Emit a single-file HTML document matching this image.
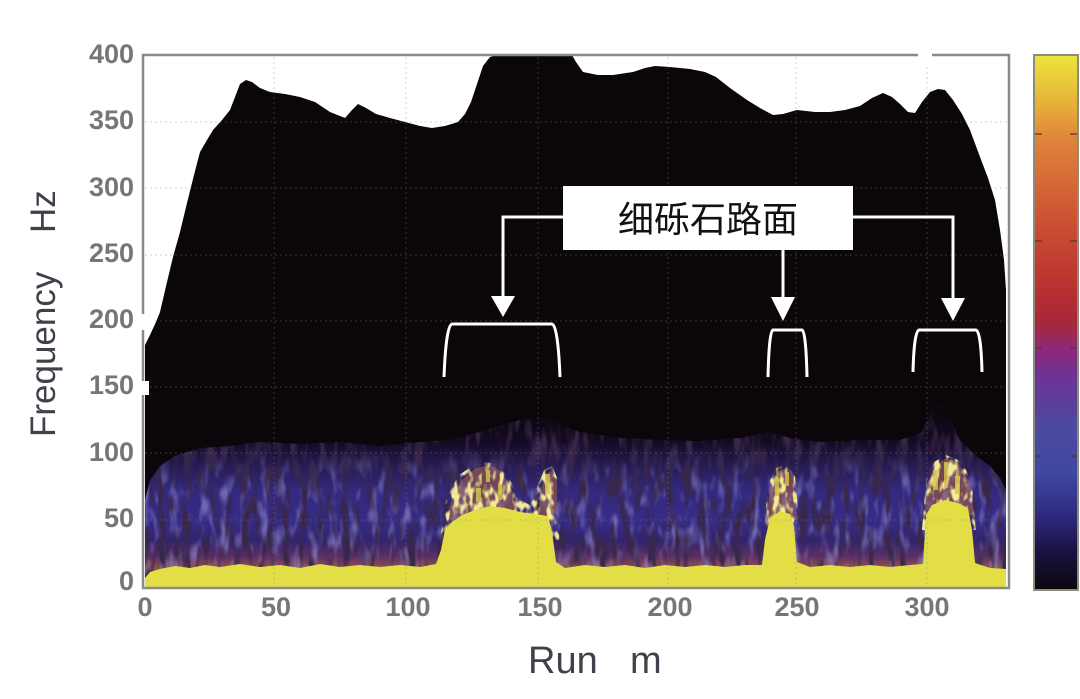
<!DOCTYPE html>
<html>
<head>
<meta charset="utf-8">
<style>
  html,body{margin:0;padding:0;background:#fff;}
  body{width:1080px;height:699px;overflow:hidden;}
  svg{display:block;}
  .tick{font-family:"Liberation Sans",sans-serif;font-size:27px;font-weight:bold;fill:#767676;}
  .title{font-family:"Liberation Sans",sans-serif;fill:#41414b;}
</style>
</head>
<body>
<svg width="1080" height="699" viewBox="0 0 1080 699" xmlns="http://www.w3.org/2000/svg">
  <defs>
    <linearGradient id="bandGrad" gradientUnits="userSpaceOnUse" x1="0" y1="405" x2="0" y2="570">
      <stop offset="0" stop-color="#0b0609"/>
      <stop offset="0.22" stop-color="#140a22"/>
      <stop offset="0.36" stop-color="#251a50"/>
      <stop offset="0.52" stop-color="#33297e"/>
      <stop offset="0.70" stop-color="#362c86"/>
      <stop offset="0.82" stop-color="#32246e"/>
      <stop offset="0.92" stop-color="#5c3064"/>
      <stop offset="1" stop-color="#9a5a4a"/>
    </linearGradient>
    <linearGradient id="fadeGrad" gradientUnits="userSpaceOnUse" x1="0" y1="400" x2="0" y2="590">
      <stop offset="0" stop-color="#000"/>
      <stop offset="0.25" stop-color="#000"/>
      <stop offset="0.45" stop-color="#fff"/>
      <stop offset="1" stop-color="#fff"/>
    </linearGradient>
    <mask id="fadeMask" maskUnits="userSpaceOnUse" x="140" y="400" width="870" height="190">
      <rect x="140" y="400" width="870" height="190" fill="url(#fadeGrad)"/>
    </mask>
    <linearGradient id="cbGrad" gradientUnits="userSpaceOnUse" x1="0" y1="55" x2="0" y2="590">
      <stop offset="0" stop-color="#ece43c"/>
      <stop offset="0.08" stop-color="#e8b838"/>
      <stop offset="0.15" stop-color="#e0883a"/>
      <stop offset="0.28" stop-color="#d05a34"/>
      <stop offset="0.42" stop-color="#bc3430"/>
      <stop offset="0.50" stop-color="#a82838"/>
      <stop offset="0.55" stop-color="#8e2878"/>
      <stop offset="0.60" stop-color="#6c3494"/>
      <stop offset="0.70" stop-color="#4c4aa0"/>
      <stop offset="0.78" stop-color="#4048a0"/>
      <stop offset="0.86" stop-color="#302a80"/>
      <stop offset="0.93" stop-color="#1a1040"/>
      <stop offset="1" stop-color="#0c0810"/>
    </linearGradient>
    <clipPath id="bandClip">
      <polygon points="145,588 145,500 150,480 160,466 175,456 200,448 230,446 260,442 300,444 340,442 380,446 420,442 450,440 480,432 500,426 520,420 545,418 560,424 580,432 620,438 660,440 700,441 740,438 770,432 790,438 820,442 860,440 900,440 922,432 932,410 942,404 950,418 960,440 975,455 990,466 1000,478 1006,490 1006,588"/>
    </clipPath>
    <filter id="darkStreak" x="140" y="400" width="870" height="190" filterUnits="userSpaceOnUse">
      <feTurbulence type="fractalNoise" baseFrequency="0.12 0.03" numOctaves="2" seed="7"/>
      <feColorMatrix type="matrix" values="0 0 0 0 0.04  0 0 0 0 0.02  0 0 0 0 0.07  4 0 0 0 -1.85"/>
    </filter>
    <filter id="lightStreak" x="140" y="400" width="870" height="190" filterUnits="userSpaceOnUse">
      <feTurbulence type="fractalNoise" baseFrequency="0.1 0.04" numOctaves="2" seed="19"/>
      <feColorMatrix type="matrix" values="0 0 0 0 0.30  0 0 0 0 0.27  0 0 0 0 0.66  0 3.5 0 0 -1.7"/>
    </filter>
    <filter id="speck" x="420" y="440" width="580" height="100" filterUnits="userSpaceOnUse">
      <feTurbulence type="fractalNoise" baseFrequency="0.15 0.08" numOctaves="2" seed="4"/>
      <feColorMatrix type="matrix" values="0 0 0 0 0.9  0 0 0 0 0.82  0 0 0 0 0.3  5 0 0 0 -2.3"/>
    </filter>
    <clipPath id="speckClip">
      <polygon points="440,540 446,500 458,476 472,466 488,462 500,468 510,480 520,500 530,505 538,485 544,470 552,466 558,480 560,540"/>
      <polygon points="764,530 768,485 776,468 786,465 795,476 800,530"/>
      <polygon points="922,530 926,480 934,462 946,455 958,460 966,470 972,485 976,530"/>
    </clipPath>
  </defs>

  <!-- plot background -->
  <rect x="143" y="55" width="867" height="533" fill="#ffffff"/>

  <!-- black region -->
  <polygon fill="#0b0609" points="145,588 145,345 150,335 156,322 160,312 167,282 173,257 180,232 187,203 194,175 200,152 207,140 213,130 222,120 230,110 235,97 240,84 246,80 252,82 260,88 270,92 285,94 300,97 315,102 330,112 345,118 352,110 358,104 366,108 376,114 390,118 405,122 420,126 432,128 445,126 458,122 465,114 471,102 477,84 483,66 490,57 497,55 572,55 576,62 583,72 598,75 613,75 633,72 645,68 655,66 670,67 690,69 705,72 716,77 730,88 747,100 760,108 773,115 783,114 797,110 815,112 830,112 845,110 860,106 872,98 883,93 892,97 900,104 908,112 915,113 922,102 930,92 938,89 945,90 953,100 962,114 970,130 980,157 988,178 995,200 1000,230 1004,260 1006,290 1006,588"/>

  <!-- purple / blue band -->
  <g clip-path="url(#bandClip)">
    <rect x="140" y="400" width="870" height="190" fill="url(#bandGrad)"/>
    <rect x="140" y="400" width="870" height="190" filter="url(#lightStreak)" opacity="0.6" mask="url(#fadeMask)"/>
    <rect x="140" y="400" width="870" height="190" filter="url(#darkStreak)"/>
  </g>

  <!-- orange haze above bumps -->
  <g fill="#c0704a" opacity="0.45">
    <polygon points="446,520 452,500 462,480 476,468 490,465 502,472 512,490 518,512"/>
    <polygon points="538,516 541,490 546,474 553,470 557,482 557,514"/>
    <polygon points="766,522 770,488 777,472 786,468 794,478 797,520"/>
    <polygon points="924,515 928,482 935,466 946,458 957,462 965,472 971,488 974,515"/>
  </g>
  <g clip-path="url(#speckClip)">
    <rect x="420" y="440" width="580" height="100" filter="url(#speck)"/>
  </g>

  <!-- yellow base -->
  <polygon fill="#e3de45" points="145,588 145,578 150,572 160,569 175,566 190,568 205,565 220,567 240,564 260,567 280,565 300,568 320,564 340,567 360,565 380,567 400,565 420,567 436,564 441,550 445,530 452,522 462,515 475,510 490,506 505,508 520,512 535,514 548,516 552,532 556,562 565,568 585,565 605,567 625,565 645,568 665,565 685,567 705,565 725,567 745,565 762,565 765,540 770,518 780,511 790,514 794,526 797,562 810,567 830,565 850,567 870,565 890,567 910,565 923,564 926,515 932,505 945,500 958,503 968,508 972,530 975,563 990,568 1006,569 1006,588"/>
  <!-- small yellow specks above base -->
  <g fill="#d8c64a" opacity="0.8">
    <rect x="486" y="470" width="4" height="12"/>
    <rect x="476" y="488" width="5" height="14"/>
    <rect x="498" y="484" width="4" height="16"/>
    <rect x="545" y="474" width="5" height="20"/>
    <rect x="775" y="478" width="4" height="18"/>
    <rect x="785" y="472" width="4" height="14"/>
    <rect x="933" y="470" width="5" height="20"/>
    <rect x="944" y="462" width="4" height="26"/>
    <rect x="955" y="476" width="5" height="18"/>
  </g>

  <!-- grid lines -->
  <g stroke="#8a8090" stroke-width="1.2" stroke-dasharray="2,3" opacity="0.3" fill="none">
    <line x1="274" y1="57" x2="274" y2="586"/>
    <line x1="406" y1="57" x2="406" y2="586"/>
    <line x1="538" y1="57" x2="538" y2="586"/>
    <line x1="668" y1="57" x2="668" y2="586"/>
    <line x1="796" y1="57" x2="796" y2="586"/>
    <line x1="927" y1="57" x2="927" y2="586"/>
    <line x1="145" y1="122" x2="1008" y2="122"/>
    <line x1="145" y1="188" x2="1008" y2="188"/>
    <line x1="145" y1="255" x2="1008" y2="255"/>
    <line x1="145" y1="321" x2="1008" y2="321"/>
    <line x1="145" y1="387" x2="1008" y2="387"/>
    <line x1="145" y1="453" x2="1008" y2="453"/>
    <line x1="145" y1="520" x2="1008" y2="520"/>
  </g>

  <!-- frame -->
  <rect x="143" y="55" width="866" height="533" fill="none" stroke="#8a8a8a" stroke-width="2.5"/>
  <!-- white artifacts -->
  <rect x="918" y="50" width="14" height="14" fill="#fff"/>
  <rect x="137" y="314" width="15" height="16" fill="#fff"/>
  <rect x="137" y="381" width="12" height="14" fill="#fff"/>

  <!-- colorbar -->
  <rect x="1034" y="55" width="44" height="535" fill="url(#cbGrad)" stroke="#8c8c7c" stroke-width="2"/>
  <g stroke="#5a3038" stroke-width="2" opacity="0.6">
    <line x1="1035" y1="134" x2="1042" y2="134"/><line x1="1070" y1="134" x2="1077" y2="134"/>
    <line x1="1035" y1="241" x2="1042" y2="241"/><line x1="1070" y1="241" x2="1077" y2="241"/>
    <line x1="1035" y1="348" x2="1042" y2="348"/><line x1="1070" y1="348" x2="1077" y2="348"/>
    <line x1="1035" y1="456" x2="1042" y2="456"/><line x1="1070" y1="456" x2="1077" y2="456"/>
  </g>

  <!-- y tick labels -->
  <g class="tick" text-anchor="end">
    <text x="134" y="63">400</text>
    <text x="134" y="129">350</text>
    <text x="134" y="196">300</text>
    <text x="134" y="262">250</text>
    <text x="134" y="328">200</text>
    <text x="134" y="394">150</text>
    <text x="134" y="461">100</text>
    <text x="134" y="527">50</text>
    <text x="134" y="590">0</text>
  </g>
  <!-- x tick labels -->
  <g class="tick" text-anchor="middle">
    <text x="145" y="616">0</text>
    <text x="276" y="616">50</text>
    <text x="408" y="616">100</text>
    <text x="540" y="616">150</text>
    <text x="670" y="616">200</text>
    <text x="797" y="616">250</text>
    <text x="927" y="616">300</text>
  </g>

  <!-- axis titles -->
  <text class="title" font-size="35" transform="translate(55,437) rotate(-90)">Frequency</text>
  <text class="title" font-size="35" transform="translate(55,233) rotate(-90)">Hz</text>
  <text class="title" font-size="38" x="528" y="673">Run</text>
  <text class="title" font-size="38" x="630" y="673">m</text>

  <!-- annotation -->
  <g stroke="#ffffff" stroke-width="3" fill="none">
    <polyline points="563,217 503,217 503,298"/>
    <polyline points="783,250 783,298"/>
    <polyline points="853,217 953,217 953,299"/>
    <path d="M444,377 Q446,326 452,324 L552,324 Q558,326 560,377"/>
    <path d="M768,377 Q769,332 773,330 L802,330 Q806,332 807,377"/>
    <path d="M913,372 Q914,332 919,330 L976,330 Q981,332 982,372"/>
  </g>
  <g fill="#ffffff">
    <polygon points="491,296 515,296 503,317"/>
    <polygon points="771,297 795,297 783,321"/>
    <polygon points="941,298 965,298 953,321"/>
  </g>
  <rect x="563" y="186" width="290" height="64" fill="#ffffff"/>
  <text x="708" y="232" text-anchor="middle" font-size="36" fill="#111" font-family="'Liberation Sans','Noto Sans CJK SC',sans-serif">细砾石路面</text>
</svg>
</body>
</html>
